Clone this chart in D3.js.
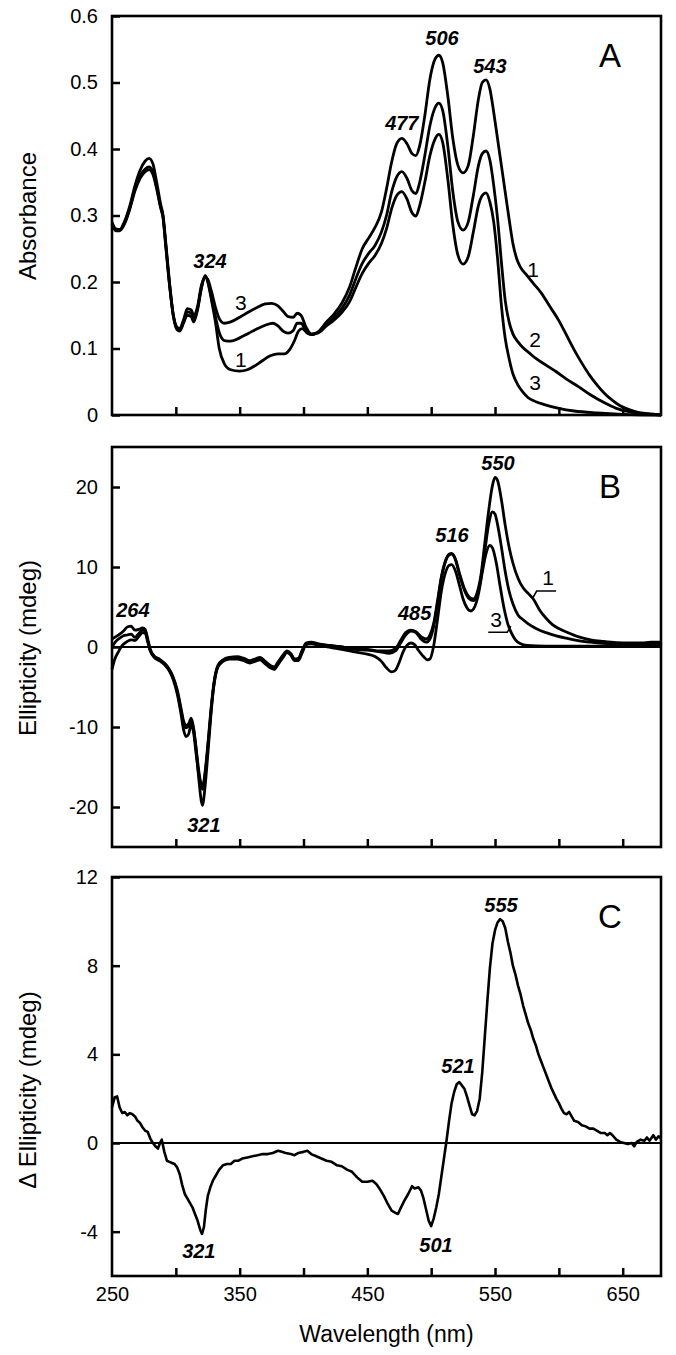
<!DOCTYPE html>
<html><head><meta charset="utf-8">
<script src="https://cdn.jsdelivr.net/npm/d3@7"></script>
<style>
body{margin:0;background:#fff}
svg{display:block}
text{font-family:"Liberation Sans",Arial,Helvetica,sans-serif}
</style>
</head><body>
<svg id="chart" width="676" height="1355"></svg>
<script>
// ---------------- DATA ----------------
const wavelengthDomain = [250, 680];
const xTicksMinor = [300, 350, 400, 450, 500, 550, 600, 650];
const xTickLabels = [250, 350, 450, 550, 650];
const yTicksA = [0, 0.1, 0.2, 0.3, 0.4, 0.5, 0.6];
const yTicksB = [-20, -10, 0, 10, 20];
const yTicksC = [-4, 0, 4, 8, 12];

// Panel A: absorbance, curves 1-3  [wavelength nm, absorbance]
const absCurve1 = [[250,0.290],[253,0.280],[256,0.279],[260,0.292],[264,0.315],[268,0.345],[272,0.368],[276,0.382],[279,0.386],[282,0.378],[285,0.350],[288,0.318],[290,0.300],[292,0.262],[295,0.200],[298,0.150],[301,0.128],[303,0.126],[306,0.138],[309,0.150],[312,0.148],[314,0.140],[317,0.158],[320,0.190],[323,0.210],[325,0.200],[328,0.172],[331,0.140],[334,0.100],[338,0.077],[343,0.068],[350,0.066],[356,0.068],[362,0.074],[368,0.082],[374,0.089],[380,0.092],[385,0.092],[389,0.098],[393,0.112],[396,0.126],[399,0.130],[403,0.123],[407,0.121],[412,0.126],[418,0.140],[424,0.152],[430,0.168],[436,0.192],[441,0.222],[446,0.250],[451,0.266],[456,0.282],[461,0.305],[465,0.340],[469,0.380],[473,0.408],[477,0.416],[481,0.408],[485,0.393],[488,0.390],[491,0.405],[495,0.450],[499,0.505],[503,0.535],[506,0.541],[509,0.530],[513,0.480],[517,0.415],[521,0.375],[525,0.364],[529,0.375],[533,0.420],[537,0.475],[540,0.500],[543,0.504],[546,0.490],[549,0.455],[552,0.415],[555,0.375],[558,0.335],[561,0.295],[564,0.258],[567,0.235],[570,0.222],[575,0.210],[580,0.198],[586,0.184],[593,0.163],[600,0.142],[606,0.120],[612,0.098],[618,0.078],[624,0.060],[630,0.045],[636,0.032],[642,0.022],[648,0.014],[655,0.008],[662,0.004],[670,0.002],[680,0.000]];
const absCurve2 = [[250,0.288],[253,0.278],[256,0.278],[260,0.290],[264,0.312],[268,0.340],[272,0.360],[276,0.370],[279,0.373],[282,0.366],[285,0.342],[288,0.314],[290,0.298],[292,0.258],[295,0.198],[298,0.150],[301,0.130],[303,0.128],[306,0.140],[309,0.155],[312,0.153],[314,0.146],[317,0.160],[320,0.192],[323,0.208],[325,0.202],[328,0.175],[331,0.148],[334,0.124],[338,0.112],[343,0.111],[350,0.116],[357,0.123],[364,0.130],[370,0.135],[376,0.138],[380,0.134],[384,0.126],[388,0.123],[392,0.127],[395,0.138],[398,0.138],[402,0.126],[406,0.121],[411,0.124],[418,0.137],[424,0.147],[430,0.160],[436,0.180],[441,0.205],[446,0.228],[451,0.243],[456,0.255],[461,0.275],[465,0.300],[469,0.335],[473,0.358],[477,0.366],[481,0.356],[485,0.337],[488,0.333],[491,0.350],[495,0.390],[499,0.435],[503,0.462],[506,0.469],[509,0.458],[513,0.405],[517,0.335],[521,0.290],[525,0.278],[529,0.290],[533,0.330],[537,0.375],[540,0.393],[543,0.397],[546,0.383],[549,0.345],[552,0.295],[555,0.230],[558,0.172],[561,0.140],[564,0.122],[568,0.110],[572,0.101],[577,0.093],[582,0.085],[590,0.075],[598,0.065],[606,0.054],[615,0.043],[625,0.030],[635,0.019],[645,0.010],[655,0.005],[665,0.002],[680,0.000]];
const absCurve3 = [[250,0.287],[253,0.277],[256,0.277],[260,0.288],[264,0.310],[268,0.337],[272,0.356],[276,0.366],[279,0.369],[282,0.362],[285,0.340],[288,0.312],[290,0.296],[292,0.256],[295,0.196],[298,0.150],[301,0.132],[303,0.130],[306,0.143],[309,0.160],[312,0.158],[314,0.150],[317,0.163],[320,0.195],[323,0.207],[325,0.204],[328,0.185],[331,0.162],[334,0.145],[338,0.138],[343,0.140],[350,0.147],[357,0.155],[364,0.162],[370,0.167],[375,0.168],[380,0.164],[384,0.156],[388,0.148],[392,0.147],[395,0.153],[398,0.150],[402,0.132],[406,0.122],[411,0.123],[418,0.134],[424,0.143],[430,0.154],[436,0.170],[441,0.192],[446,0.213],[451,0.228],[456,0.240],[461,0.258],[465,0.280],[469,0.310],[473,0.330],[477,0.336],[481,0.325],[485,0.304],[488,0.299],[491,0.315],[495,0.350],[499,0.390],[503,0.415],[506,0.422],[509,0.410],[513,0.355],[517,0.285],[521,0.240],[525,0.227],[529,0.238],[533,0.275],[537,0.315],[540,0.330],[543,0.334],[546,0.320],[549,0.290],[552,0.235],[555,0.165],[558,0.115],[561,0.085],[564,0.062],[568,0.045],[572,0.034],[576,0.026],[582,0.020],[588,0.016],[600,0.010],[612,0.006],[630,0.003],[650,0.001],[680,0.000]];

// Panel B: ellipticity (mdeg), curves 1-3
const cdCurve1 = [[250,1.0],[253,1.3],[256,1.6],[259,2.0],[262,2.5],[265,2.6],[268,2.1],[271,2.2],[274,2.4],[276,2.2],[278,1.0],[280,-0.3],[283,-1.1],[287,-1.5],[291,-2.0],[295,-2.8],[298,-3.8],[301,-5.3],[304,-7.6],[306,-9.2],[308,-9.8],[310,-9.6],[312,-8.9],[314,-10.2],[316,-13.0],[318,-16.5],[320,-19.3],[321,-19.8],[322,-18.8],[324,-15.5],[326,-11.5],[328,-7.5],[330,-4.5],[333,-2.4],[337,-1.7],[342,-1.4],[348,-1.3],[353,-1.5],[358,-1.8],[362,-1.6],[366,-1.4],[370,-1.9],[374,-2.4],[377,-2.6],[380,-2.0],[384,-1.1],[387,-0.6],[390,-0.9],[393,-1.6],[396,-1.5],[399,-0.5],[402,0.4],[406,0.5],[412,0.3],[420,0.2],[430,0.0],[440,-0.2],[450,-0.3],[460,-0.5],[467,-0.5],[472,-0.2],[476,0.8],[480,1.8],[484,2.1],[488,1.9],[492,1.3],[496,1.0],[499,1.5],[502,3.0],[505,5.8],[508,8.8],[511,10.7],[514,11.6],[516,11.7],[519,11.0],[522,9.3],[526,7.3],[530,6.2],[533,6.0],[536,6.8],[539,9.0],[542,13.0],[545,17.0],[548,20.2],[550,21.2],[552,20.8],[555,18.4],[558,15.2],[561,12.5],[564,10.5],[568,8.6],[572,7.4],[576,6.7],[580,6.0],[585,4.6],[590,3.6],[595,2.8],[600,2.3],[607,1.8],[615,1.3],[625,0.9],[635,0.7],[645,0.55],[655,0.5],[665,0.5],[672,0.6],[680,0.6]];
const cdCurve2 = [[250,0.0],[253,0.7],[256,1.1],[259,1.4],[262,1.5],[265,1.6],[268,1.2],[271,1.7],[274,2.1],[276,2.0],[278,0.8],[280,-0.4],[283,-1.2],[287,-1.6],[291,-2.1],[295,-2.9],[298,-3.9],[301,-5.5],[304,-7.9],[306,-9.6],[308,-10.1],[310,-9.9],[312,-9.2],[314,-10.4],[316,-12.8],[318,-15.5],[320,-17.3],[321,-17.6],[322,-16.8],[324,-14.0],[326,-10.5],[328,-7.0],[330,-4.3],[333,-2.3],[337,-1.6],[342,-1.3],[348,-1.2],[353,-1.4],[358,-1.7],[362,-1.5],[366,-1.3],[370,-1.8],[374,-2.3],[377,-2.5],[380,-1.9],[384,-1.0],[387,-0.5],[390,-0.8],[393,-1.5],[396,-1.4],[399,-0.4],[402,0.5],[406,0.6],[412,0.4],[420,0.2],[430,0.0],[440,-0.3],[450,-0.4],[460,-0.6],[467,-0.8],[472,-0.5],[476,0.5],[480,1.5],[484,2.0],[488,1.8],[492,1.0],[496,0.6],[499,1.0],[502,2.6],[505,5.5],[508,8.6],[511,10.6],[514,11.5],[516,11.6],[519,10.9],[522,9.1],[526,7.1],[530,6.0],[533,5.8],[536,6.5],[539,8.6],[542,12.0],[545,15.3],[548,16.9],[550,16.6],[552,15.3],[555,12.5],[558,9.4],[561,7.0],[564,5.4],[568,4.0],[572,3.4],[576,2.9],[580,2.5],[585,2.1],[590,1.8],[598,1.4],[606,1.1],[615,0.8],[625,0.6],[635,0.45],[645,0.4],[660,0.4],[680,0.5]];
const cdCurve3 = [[250,-2.8],[252,-1.6],[255,-0.6],[258,0.2],[262,0.7],[265,0.9],[268,0.8],[271,1.3],[274,1.8],[276,1.7],[278,0.6],[280,-0.5],[283,-1.3],[287,-1.7],[291,-2.2],[295,-3.0],[298,-4.1],[301,-5.8],[304,-8.3],[306,-10.3],[308,-11.2],[310,-10.9],[312,-9.7],[314,-10.8],[316,-13.5],[318,-16.0],[320,-17.5],[321,-17.8],[322,-17.0],[324,-14.3],[326,-10.8],[328,-7.3],[330,-4.6],[333,-2.5],[337,-1.8],[342,-1.5],[348,-1.5],[353,-1.7],[358,-2.0],[362,-1.8],[366,-1.6],[370,-2.1],[374,-2.6],[377,-2.8],[380,-2.2],[384,-1.3],[387,-0.7],[390,-1.0],[393,-1.7],[396,-1.7],[399,-0.7],[402,0.3],[406,0.4],[412,0.2],[420,0.0],[430,-0.3],[440,-0.6],[450,-0.9],[456,-1.2],[461,-1.8],[465,-2.6],[469,-3.1],[472,-2.9],[475,-1.9],[478,-0.6],[481,0.2],[484,0.5],[487,0.3],[490,-0.4],[494,-1.2],[497,-1.6],[499,-1.5],[502,0.2],[505,3.5],[508,7.0],[511,9.2],[514,10.2],[516,10.3],[519,9.5],[522,7.8],[525,6.0],[528,4.9],[531,4.5],[534,5.0],[537,6.6],[540,9.3],[543,11.7],[546,12.7],[548,12.4],[551,10.5],[554,7.6],[557,4.9],[560,2.9],[563,1.7],[566,0.9],[570,0.4],[575,0.2],[590,0.1],[620,0.1],[650,0.15],[680,0.2]];

// Panel C: difference ellipticity (mdeg)
const deltaCd = [[250,1.6],[252,2.05],[254,2.1],[256,1.6],[258,1.35],[260,1.4],[262,1.25],[264,1.35],[266,1.3],[268,1.2],[270,1.0],[272,0.9],[274,0.7],[276,0.55],[278,0.5],[280,0.2],[282,0.0],[284,-0.15],[286,-0.25],[288,0.05],[289,0.15],[291,-0.4],[293,-0.8],[295,-0.85],[297,-0.9],[299,-0.95],[301,-1.1],[303,-1.4],[305,-1.9],[307,-2.3],[309,-2.5],[311,-2.7],[313,-2.9],[315,-3.2],[317,-3.5],[319,-3.9],[320.5,-4.1],[322,-3.8],[323.5,-3.0],[325,-2.4],[327,-2.0],[329,-1.7],[331,-1.5],[334,-1.2],[337,-1.0],[340,-0.95],[343,-0.95],[346,-0.8],[349,-0.8],[352,-0.7],[356,-0.65],[360,-0.6],[364,-0.55],[368,-0.5],[372,-0.5],[376,-0.45],[380,-0.35],[383,-0.4],[386,-0.45],[390,-0.5],[393,-0.55],[396,-0.45],[400,-0.4],[403,-0.35],[406,-0.5],[410,-0.6],[414,-0.7],[418,-0.8],[422,-0.85],[426,-1.0],[430,-1.05],[434,-1.2],[438,-1.3],[442,-1.55],[446,-1.75],[450,-1.75],[454,-1.7],[457,-1.85],[460,-2.1],[463,-2.4],[466,-2.75],[469,-3.05],[472,-3.15],[474,-3.2],[476,-2.95],[479,-2.6],[482,-2.3],[485,-1.95],[487,-2.05],[490,-2.0],[492,-2.15],[494,-2.5],[496,-3.0],[498,-3.5],[500,-3.75],[502,-3.4],[504,-2.9],[506,-2.3],[508,-1.5],[510,-0.7],[512,0.1],[514,1.0],[516,1.8],[518,2.3],[520,2.65],[522,2.75],[524,2.6],[526,2.45],[528,2.1],[530,1.7],[532,1.3],[534,1.25],[536,1.45],[538,2.0],[540,3.2],[542,4.8],[544,6.4],[546,7.9],[548,9.0],[550,9.6],[552,9.95],[554,10.1],[556,10.0],[558,9.7],[560,9.1],[562,8.6],[564,8.0],[566,7.6],[568,7.1],[570,6.7],[572,6.2],[574,5.8],[576,5.4],[578,5.1],[580,4.7],[582,4.4],[584,4.0],[586,3.7],[588,3.4],[590,3.1],[592,2.8],[594,2.5],[596,2.25],[598,2.0],[600,1.8],[602,1.55],[604,1.35],[606,1.3],[608,1.4],[610,1.2],[612,1.0],[615,0.95],[618,0.8],[621,0.75],[624,0.65],[627,0.65],[630,0.55],[633,0.45],[636,0.45],[638,0.35],[640,0.45],[642,0.35],[645,0.15],[648,0.05],[651,0.0],[654,-0.05],[657,0.0],[659,-0.15],[661,0.05],[664,0.15],[667,0.1],[669,0.25],[671,0.1],[674,0.35],[676,0.15],[678,0.3],[680,0.2]];

// Annotations (data units)
const peakLabelsA = [{t:"324",wl:326.8,v:0.221},{t:"477",wl:477,v:0.429},{t:"506",wl:508.5,v:0.556},{t:"543",wl:546,v:0.514}];
const curveLabelsA = [{t:"3",wl:351,v:0.158},{t:"1",wl:351,v:0.072},{t:"1",wl:579.8,v:0.2075},{t:"2",wl:581.3,v:0.102},{t:"3",wl:581.3,v:0.0376}];
const peakLabelsB = [{t:"264",wl:266.4,v:3.75},{t:"321",wl:322,v:-23.1},{t:"485",wl:487,v:3.4},{t:"516",wl:516.3,v:13.1},{t:"550",wl:552.3,v:22.1}];
const curveLabelsB = [{t:"1",wl:591.5,v:7.75},{t:"3",wl:550.8,v:2.5}];
const leadersB = [[[579.5,6.1],[582.6,7.0],[597.8,7.0]],[[544.7,1.84],[559.6,1.84],[562.3,2.6]]];
const peakLabelsC = [{t:"321",wl:318,v:-5.19},{t:"501",wl:503.8,v:-4.92},{t:"521",wl:521,v:3.16},{t:"555",wl:554.7,v:10.42}];

// ---------------- DRAW ----------------
const svg = d3.select("#chart");
svg.append("rect").attr("width",676).attr("height",1355).attr("fill","#fff");
const FONT = '"Liberation Sans",Arial,Helvetica,sans-serif';
const x = d3.scaleLinear().domain(wavelengthDomain).range([112, 661]);
const plainFmt = d => String(d);

const panels = [
  {letter:"A", top:16, bottom:415, domain:[0,0.6], ticks:yTicksA, fmt:d=>d===0?"0":d3.format(".1f")(d),
   series:[absCurve1,absCurve2,absCurve3], zero:false, title:"Absorbance", titleY:216,
   peaks:peakLabelsA, curveLabels:curveLabelsA, leaders:[], curve:d3.curveMonotoneX, sw:2.8},
  {letter:"B", top:447, bottom:847, domain:[-25,25], ticks:yTicksB, fmt:plainFmt,
   series:[cdCurve1,cdCurve2,cdCurve3], zero:true, title:"Ellipticity (mdeg)", titleY:648,
   peaks:peakLabelsB, curveLabels:curveLabelsB, leaders:leadersB, curve:d3.curveMonotoneX, sw:2.8},
  {letter:"C", top:877, bottom:1276, domain:[-6,12], ticks:yTicksC, fmt:plainFmt,
   series:[deltaCd], zero:true, title:"\u0394 Ellipticity (mdeg)", titleY:1090,
   peaks:peakLabelsC, curveLabels:[], leaders:[], curve:d3.curveLinear, sw:2.6, xlabels:true}
];

panels.forEach(p => {
  const y = d3.scaleLinear().domain(p.domain).range([p.bottom, p.top]);
  const g = svg.append("g");

  if (p.zero) {
    g.append("line").attr("x1",x.range()[0]).attr("x2",x.range()[1])
      .attr("y1",y(0)).attr("y2",y(0)).attr("stroke","#000").attr("stroke-width",2.2);
  }

  const line = d3.line().x(d=>x(d[0])).y(d=>y(d[1])).curve(p.curve);
  p.series.forEach(s => {
    g.append("path").attr("d", line(s)).attr("fill","none").attr("stroke","#000")
      .attr("stroke-width", p.sw).attr("stroke-linejoin","round");
  });

  const ya = g.append("g").attr("transform",`translate(${x.range()[0]},0)`)
    .call(d3.axisLeft(y).tickValues(p.ticks).tickSize(-8).tickPadding(14).tickFormat(p.fmt));
  ya.select(".domain").remove();
  ya.selectAll("line").attr("stroke-width",2.5);
  ya.selectAll("text").attr("font-size",20).attr("font-family",FONT).attr("fill","#000");

  const xa = g.append("g").attr("transform",`translate(0,${p.bottom})`)
    .call(d3.axisBottom(x).tickValues(xTicksMinor).tickSize(-8).tickFormat(""));
  xa.select(".domain").remove();
  xa.selectAll("line").attr("stroke-width",2.5);

  if (p.xlabels) {
    const xl = g.append("g").attr("transform",`translate(0,${p.bottom})`)
      .call(d3.axisBottom(x).tickValues(xTickLabels).tickSize(0).tickPadding(11).tickFormat(plainFmt));
    xl.select(".domain").remove();
    xl.selectAll("text").attr("font-size",20).attr("font-family",FONT).attr("fill","#000");
    svg.append("text").attr("x",(x.range()[0]+x.range()[1])/2).attr("y",1342)
      .attr("text-anchor","middle").attr("font-size",23).text("Wavelength (nm)");
  }

  g.append("rect").attr("x",x.range()[0]).attr("y",p.top)
    .attr("width",x.range()[1]-x.range()[0]).attr("height",p.bottom-p.top)
    .attr("fill","none").attr("stroke","#000").attr("stroke-width",2.6);

  svg.append("text").attr("transform",`translate(27,${p.titleY}) rotate(-90)`)
    .attr("text-anchor","middle").attr("dominant-baseline","central")
    .attr("font-size",24).text(p.title);

  g.append("text").attr("x",610).attr("y",p.top+51).attr("text-anchor","middle")
    .attr("font-size",33).text(p.letter);

  p.peaks.forEach(d => {
    g.append("text").attr("x",x(d.wl)).attr("y",y(d.v)).attr("text-anchor","middle")
      .attr("font-size",20).attr("font-weight","bold").attr("font-style","italic").text(d.t);
  });
  p.curveLabels.forEach(d => {
    g.append("text").attr("x",x(d.wl)).attr("y",y(d.v)).attr("text-anchor","middle")
      .attr("font-size",21).text(d.t);
  });
  p.leaders.forEach(l => {
    g.append("path").attr("d", d3.line().x(d=>x(d[0])).y(d=>y(d[1]))(l))
      .attr("fill","none").attr("stroke","#000").attr("stroke-width",1.6);
  });
});
</script>
</body></html>
